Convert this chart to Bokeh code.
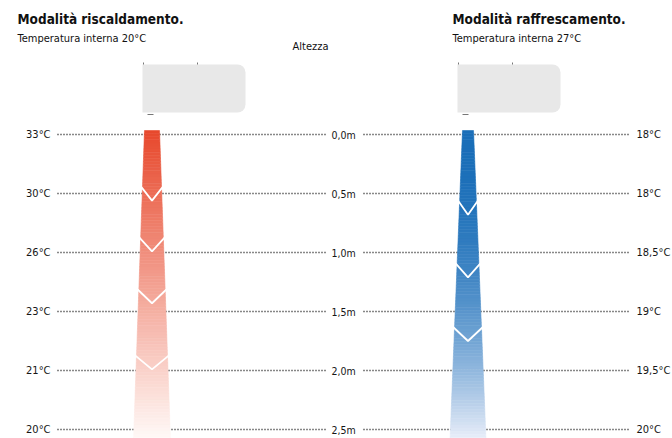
from bokeh.plotting import figure
from bokeh.models import Range1d, Label
from bokeh.core.properties import value
from bokeh.embed import file_html
from bokeh.resources import INLINE

# ---- data ----
heights = [0.0, 0.5, 1.0, 1.5, 2.0, 2.5]
height_labels = ["0,0m", "0,5m", "1,0m", "1,5m", "2,0m", "2,5m"]
heating_temps = [33, 30, 26, 23, 21, 20]
cooling_temps = [18, 18, 18.5, 19, 19.5, 20]
heating_labels = [f"{t}°C" for t in heating_temps]
cooling_labels = [(f"{t:g}".replace(".", ",") + "°C") for t in cooling_temps]
heating_chevrons = [0.56, 0.99, 1.43, 1.99]
cooling_chevrons = [0.68, 1.21, 1.75]

FONT = "DejaVu Sans Condensed"
TXT = "#161616"

# pixel-row to metre helper (layout only)
PX0, PXM = 134.0, 118.0
def ym(py):
    return (py - PX0) / PXM

p = figure(width=672, height=438, x_range=Range1d(0, 672),
           y_range=Range1d(ym(438), ym(0)), output_backend="svg",
           toolbar_location=None, min_border=0)
p.axis.visible = False
p.grid.visible = False
p.outline_line_color = None
p.background_fill_color = "white"
p.border_fill_color = "white"

# dotted guide lines
p.segment(x0=[57] * len(heights), x1=[325] * len(heights), y0=heights, y1=heights,
          line_color="#111111", line_width=1.4, line_dash="1 2")
p.segment(x0=[363] * len(heights), x1=[630] * len(heights), y0=heights, y1=heights,
          line_color="#111111", line_width=1.4, line_dash="1 2")

# labels
p.text(x=[50] * len(heights), y=heights, text=heating_labels, text_align="right",
       text_baseline="middle", text_font=value(FONT), text_font_size="11px", text_color=TXT)
p.text(x=[331] * len(heights), y=heights, text=height_labels, text_align="left",
       text_baseline="middle", text_font=value(FONT), text_font_size="10.5px", text_color=TXT)
p.text(x=[636] * len(heights), y=heights, text=cooling_labels, text_align="left",
       text_baseline="middle", text_font=value(FONT), text_font_size="11px", text_color=TXT)

# device boxes
for left in (142, 457):
    p.quad(left=left, right=left + 103, top=ym(64), bottom=ym(112),
           fill_color="#e8e8e8", line_color=None, border_radius=(0, 8, 8, 0))
    p.segment(x0=[left + 1, left + 55], x1=[left + 1, left + 55], y0=[ym(62)] * 2, y1=[ym(64)] * 2,
              line_color="#777777", line_width=1)
    p.segment(x0=[left + 5], x1=[left + 11], y0=[ym(114)], y1=[ym(114)],
              line_color="#777777", line_width=1)


def lerp(c0, c1, t):
    return "#%02x%02x%02x" % tuple(int(round(a + (b - a) * t)) for a, b in zip(c0, c1))


def beam(cx, hw_top, hw_bot, c0, c1, gamma, chevrons, n=100):
    yt, yb = ym(130), ym(440)

    def hw(y):
        return hw_top + (hw_bot - hw_top) * (y - yt) / (yb - yt)

    xs, ys, cols = [], [], []
    for i in range(n):
        a = yt + (yb - yt) * i / n
        b = yt + (yb - yt) * (i + 1) / n
        xs.append([cx - hw(a), cx + hw(a), cx + hw(b), cx - hw(b)])
        ys.append([a, a, b, b])
        cols.append(lerp(c0, c1, ((i + 0.5) / n) ** gamma))
    p.patches(xs, ys, fill_color=cols, line_color=cols, line_width=0.6)

    cxs, cys = [], []
    for apex in chevrons:
        arm = apex - 14 / PXM
        h = hw(arm) + 1.5
        cxs.append([cx - h, cx, cx + h])
        cys.append([arm, apex, arm])
    p.multi_line(cxs, cys, line_color="white", line_width=1.8)


beam(151.5, 7.5, 18.5, (231, 72, 44), (255, 250, 248), 1.0, heating_chevrons)
beam(467.5, 5.5, 18.0, (26, 110, 184), (236, 240, 250), 2.2, cooling_chevrons)

# titles
for x0, title, sub in ((17, "Modalità riscaldamento.", "Temperatura interna 20°C"),
                       (452, "Modalità raffrescamento.", "Temperatura interna  27°C")):
    p.add_layout(Label(x=x0, y=ym(18), text=title, text_font=FONT, text_font_size="13.5px",
                       text_font_style="bold", text_color="#111111", text_baseline="middle"))
    p.add_layout(Label(x=x0, y=ym(38), text=sub, text_font=FONT, text_font_size="11px",
                       text_color="#111111", text_baseline="middle"))

p.add_layout(Label(x=310, y=ym(46), text="Altezza", text_font=FONT, text_font_size="11px",
                   text_color="#111111", text_align="center", text_baseline="middle"))

open("out.html", "w").write(file_html(p, INLINE))
